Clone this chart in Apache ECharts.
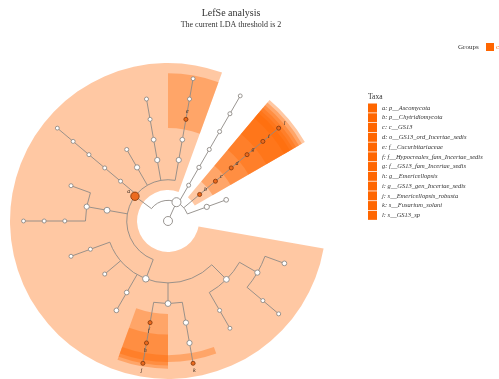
<!DOCTYPE html>
<html>
<head>
<meta charset="utf-8">
<script src="https://cdn.jsdelivr.net/npm/echarts@6/dist/echarts.min.js"></script>
<style>
  html, body { margin: 0; padding: 0; background: #fff; }
  #chart { width: 499px; height: 379px; }
</style>
</head>
<body>
<div id="chart"></div>
<script>
// Taxonomy listed depth-first; the rank prefix (r/k/p/c/o/f/g/s) gives the depth,
// and each taxon's parent is the closest earlier taxon one rank above it.
const taxa = [
  'r__Root',
  'k__Fungi',
  'p__Ascomycota',
  'c__Sordariomycetes',
  'o__Sordariales',
  'f__Chaetomiaceae',
  'g__Chaetomium',
  'g__Humicola',
  's__Humicola_grisea',
  'f__Lasiosphaeriaceae',
  'g__Schizothecium',
  'o__Hypocreales',
  'f__Nectriaceae',
  'g__Fusarium',
  's__Fusarium_solani',
  'f__Hypocreales_fam_Incertae_sedis',
  'g__Emericellopsis',
  's__Emericellopsis_robusta',
  'o__Microascales',
  'f__Microascaceae',
  'o__Sordariomycetes_ord_Incertae_sedis',
  'o__Glomerellales',
  'f__Plectosphaerellaceae',
  'c__Eurotiomycetes',
  'o__Eurotiales',
  'f__Aspergillaceae',
  'g__Aspergillus',
  's__Aspergillus_sp',
  'f__Trichocomaceae',
  'c__Leotiomycetes',
  'o__Helotiales',
  'f__Helotiaceae',
  'g__Hymenoscyphus',
  's__Hymenoscyphus_sp',
  'c__Pezizomycetes',
  'o__Pezizales',
  'c__Saccharomycetes',
  'o__Saccharomycetales',
  'f__Debaryomycetaceae',
  'g__Debaryomyces',
  'c__Dothideomycetes',
  'o__Pleosporales',
  'f__Cucurbitariaceae',
  'g__Pyrenochaetopsis',
  's__Pyrenochaetopsis_sp',
  'p__Basidiomycota',
  'c__Agaricomycetes',
  'o__Agaricales',
  'f__Psathyrellaceae',
  'g__Coprinellus',
  's__Coprinellus_sp',
  'p__Chytridiomycota',
  'c__GS13',
  'o__GS13_ord_Incertae_sedis',
  'f__GS13_fam_Incertae_sedis',
  'g__GS13_gen_Incertae_sedis',
  's__GS13_sp',
  'p__Mortierellomycota',
  'c__Mortierellomycetes'
];

// Relative abundance (%) of each taxon, same order as taxa.
const abundance = [
  100, 100, 78,
  30, 18, 10, 5, 1, 1, 1, 0.6,
  18, 10, 10, 1, 1, 1, 1,
  5, 5, 1, 1, 1,
  20, 10, 1, 1, 0.5, 1,
  1, 1, 1, 1, 0.5,
  10, 1,
  10, 5, 1, 1,
  10, 5, 1, 1, 0.5,
  1, 2, 1, 1, 1, 0.5,
  1, 1, 1, 1, 1, 1,
  10, 5
];

// LEfSe biomarkers (LDA > 2) and their short labels.
const biomarkerTaxa = [
  'p__Ascomycota',
  'p__Chytridiomycota',
  'c__GS13',
  'o__GS13_ord_Incertae_sedis',
  'f__Cucurbitariaceae',
  'f__Hypocreales_fam_Incertae_sedis',
  'f__GS13_fam_Incertae_sedis',
  'g__Emericellopsis',
  'g__GS13_gen_Incertae_sedis',
  's__Emericellopsis_robusta',
  's__Fusarium_solani',
  's__GS13_sp'
];
const biomarkerLetters = ['a', 'b', 'c', 'd', 'e', 'f', 'g', 'h', 'i', 'j', 'k', 'l'];

const groupNames = ['case'];

const titleText = 'LefSe analysis';
const subtitleText = 'The current LDA threshold is 2';

// ---------------------------------------------------------------------------
const RANKS = ['r', 'k', 'p', 'c', 'o', 'f', 'g', 's'];
const GROUP_COLOR = '#ff6600';
const FONT = '"Liberation Serif", "DejaVu Serif", serif';

// Build the tree and a cladogram layout: leaves take consecutive angular
// slots, an inner node sits at the mean angle of its children.
function buildTree(names) {
  const nodes = names.map((name, i) => ({
    name, idx: i, level: RANKS.indexOf(name[0]), parent: -1, children: []
  }));
  const stack = [];
  nodes.forEach(n => {
    while (stack.length && nodes[stack[stack.length - 1]].level >= n.level) stack.pop();
    if (stack.length) {
      n.parent = stack[stack.length - 1];
      nodes[n.parent].children.push(n.idx);
    }
    stack.push(n.idx);
  });
  let leaf = 0;
  function place(n) {
    if (!n.children.length) {
      n.first = leaf; n.angle = leaf + 0.5; leaf += 1; n.last = leaf;
      return;
    }
    let sum = 0;
    n.children.forEach(c => { place(nodes[c]); sum += nodes[c].angle; });
    n.angle = sum / n.children.length;
    n.first = nodes[n.children[0]].first;
    n.last = nodes[n.children[n.children.length - 1]].last;
  }
  place(nodes[0]);
  return { nodes, leafCount: leaf };
}

const tree = buildTree(taxa);
const nodes = tree.nodes;
const maxLevel = RANKS.length - 1;
const byName = {};
nodes.forEach(n => { byName[n.name] = n; });

function nodeSize(a) { return 3.5 + 0.55 * Math.sqrt(a); }

function polarGeom(api, level, angle) {
  const c = api.coord([0, angle]);
  const p = api.coord([level, angle]);
  return { cx: c[0], cy: c[1], r: Math.hypot(p[0] - c[0], p[1] - c[1]), a: Math.atan2(p[1] - c[1], p[0] - c[0]), p };
}
function sweep(a0, a1) { while (a1 <= a0) a1 += Math.PI * 2; return a1; }

// Shaded clade sectors, one per biomarker, stacked translucently.
const wedgeData = biomarkerTaxa.map(t => {
  const n = byName[t];
  return [n.level, n.angle, n.first, n.last];
});
const wedgeSeries = {
  type: 'custom',
  name: groupNames[0],
  coordinateSystem: 'polar',
  silent: true,
  z: 1,
  data: wedgeData,
  renderItem: (params, api) => {
    const level = api.value(0), first = api.value(2), last = api.value(3);
    const outerLevel = 6.83 + (maxLevel - level) * 0.165;
    const g0 = polarGeom(api, level - 0.5, first);
    const g1 = polarGeom(api, outerLevel, last);
    return {
      type: 'sector',
      shape: {
        cx: g0.cx, cy: g0.cy, r0: g0.r, r: g1.r,
        startAngle: g0.a, endAngle: sweep(g0.a, g1.a), clockwise: true
      },
      style: { fill: GROUP_COLOR, opacity: 0.36 }
    };
  }
};

// Branches: radial segment to each taxon, arc joining the children of each taxon.
const edgeData = nodes.map(n => [n.level, n.angle, n.idx]);
const edgeSeries = {
  type: 'custom',
  coordinateSystem: 'polar',
  silent: true,
  z: 2,
  data: edgeData,
  renderItem: (params, api) => {
    const n = nodes[api.value(2)];
    const children = [];
    const lineStyle = { stroke: '#8f8a86', lineWidth: 0.9, fill: null };
    if (n.parent >= 0) {
      const p0 = api.coord([nodes[n.parent].level, n.angle]);
      const p1 = api.coord([n.level, n.angle]);
      children.push({ type: 'line', shape: { x1: p0[0], y1: p0[1], x2: p1[0], y2: p1[1] }, style: lineStyle });
    }
    if (n.children.length > 1) {
      const a = polarGeom(api, n.level, nodes[n.children[0]].angle);
      const b = polarGeom(api, n.level, nodes[n.children[n.children.length - 1]].angle);
      children.push({
        type: 'arc',
        shape: { cx: a.cx, cy: a.cy, r: a.r, startAngle: a.a, endAngle: sweep(a.a, b.a), clockwise: true },
        style: lineStyle
      });
    }
    return { type: 'group', children };
  }
};

// Plain taxa as white circles, sized by abundance.
const plainNodes = nodes.filter(n => biomarkerTaxa.indexOf(n.name) < 0);
const plainSeries = {
  type: 'scatter',
  coordinateSystem: 'polar',
  silent: true,
  z: 3,
  data: plainNodes.map(n => ({ value: [n.level, n.angle], symbolSize: nodeSize(abundance[n.idx]) })),
  itemStyle: { color: '#ffffff', borderColor: '#8f8a86', borderWidth: 0.9, opacity: 1 }
};

// Biomarker taxa: one series each, so they are listed in the taxa legend.
const biomarkerSeries = biomarkerTaxa.map((t, i) => {
  const n = byName[t];
  return {
    type: 'scatter',
    name: biomarkerLetters[i] + ': ' + t,
    coordinateSystem: 'polar',
    silent: true,
    z: 4,
    data: [{ value: [n.level, n.angle], symbolSize: nodeSize(abundance[n.idx]) }],
    itemStyle: { color: '#ec6a1e', borderColor: '#8a3d10', borderWidth: 0.9, opacity: 1 }
  };
});

// Letters just outside each biomarker node.
const letterSeries = {
  type: 'custom',
  coordinateSystem: 'polar',
  silent: true,
  z: 5,
  data: biomarkerTaxa.map((t, i) => [byName[t].level + 0.37, byName[t].angle, i]),
  renderItem: (params, api) => {
    const p = api.coord([api.value(0), api.value(1)]);
    return {
      type: 'text',
      x: p[0], y: p[1],
      style: {
        text: biomarkerLetters[api.value(2)],
        fill: '#3a2a20', font: 'italic 6px ' + FONT,
        textAlign: 'center', textVerticalAlign: 'middle'
      }
    };
  }
};

const chart = echarts.init(document.getElementById('chart'), null, { renderer: 'canvas' });
chart.setOption({
  backgroundColor: '#ffffff',
  animation: false,
  title: {
    text: titleText,
    subtext: subtitleText,
    left: 226,
    top: 3,
    textAlign: 'center',
    itemGap: 3,
    textStyle: { fontFamily: FONT, fontSize: 10, fontWeight: 'normal', color: '#333' },
    subtextStyle: { fontFamily: FONT, fontSize: 8, color: '#333' }
  },
  polar: { center: [168, 221], radius: [0, 8 * 20.64] },
  radiusAxis: { type: 'value', min: 0, max: 8, show: false },
  angleAxis: {
    type: 'value', min: 0, max: tree.leafCount + 1, startAngle: 350, clockwise: true,
    show: false
  },
  legend: [
    {
      data: groupNames.map(g => ({ name: g, icon: 'rect', itemStyle: { color: GROUP_COLOR } })),
      left: 486, top: 43, padding: 0, itemWidth: 8, itemHeight: 8,
      selectedMode: false,
      textStyle: { fontFamily: FONT, fontSize: 7, color: GROUP_COLOR, padding: [0, 0, 0, -3] }
    },
    {
      data: biomarkerTaxa.map((t, i) => ({
        name: biomarkerLetters[i] + ': ' + t, icon: 'rect', itemStyle: { color: GROUP_COLOR, borderWidth: 0 }
      })),
      orient: 'vertical',
      left: 368, top: 103.5, padding: 0,
      itemWidth: 9, itemHeight: 9, itemGap: 0.76,
      selectedMode: false,
      textStyle: { fontFamily: FONT, fontStyle: 'italic', fontSize: 6.5, color: '#333', lineHeight: 9 }
    }
  ],
  graphic: [
    { type: 'text', left: 458, top: 43.5, style: { text: 'Groups', font: '7px ' + FONT, fill: '#333' } },
    { type: 'text', left: 368, top: 93.5, style: { text: 'Taxa', font: '7.5px ' + FONT, fill: '#333' } }
  ],
  series: [wedgeSeries, edgeSeries, plainSeries, letterSeries].concat(biomarkerSeries)
});
</script>
</body>
</html>
